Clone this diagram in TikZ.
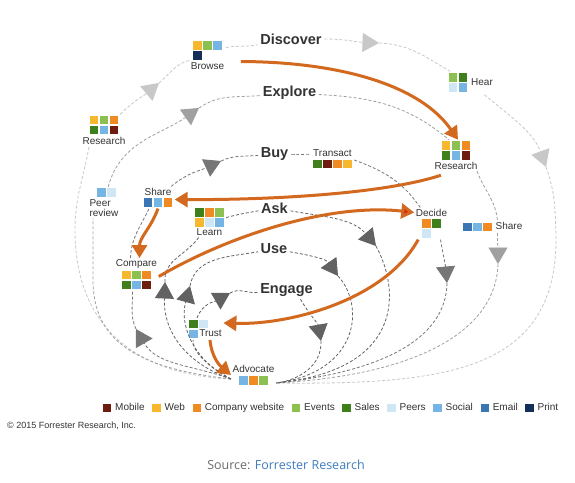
\documentclass[tikz,border=0pt]{standalone}
\usepackage{fontspec}
\setmainfont{Liberation Sans}
\newfontfamily\srcfont{Open Sans}
\usetikzlibrary{arrows.meta,positioning}

\definecolor{mobile}{HTML}{6E1B10}
\definecolor{web}{HTML}{F5B82E}
\definecolor{company}{HTML}{EF8B22}
\definecolor{events}{HTML}{8CC152}
\definecolor{sales}{HTML}{3F7F1C}
\definecolor{peers}{HTML}{CFE6F5}
\definecolor{social}{HTML}{74B5E3}
\definecolor{email}{HTML}{3C75B4}
\definecolor{print}{HTML}{14305A}
\definecolor{orng}{HTML}{D2691E}
\definecolor{tipred}{HTML}{DC2A14}
\definecolor{txt}{HTML}{333333}
\definecolor{gDis}{HTML}{C8C8C8}
\definecolor{gExp}{HTML}{A0A0A0}
\definecolor{gBuy}{HTML}{767676}
\definecolor{gIn}{HTML}{626262}
\definecolor{srcgray}{HTML}{6A6A6A}
\definecolor{srcblue}{HTML}{3F7DBF}

\newcommand{\sq}[1]{\kern0.75pt\textcolor{#1}{\rule[-1.5pt]{8.5pt}{8.5pt}}\kern0.75pt}

\tikzset{>=latex,
  touchpt/.style={inner sep=1.5pt, align=center, text=txt, font=\fontsize{10}{10}\selectfont},
  stage/.style={inner sep=2.5pt, text=txt, font=\fontsize{14.5}{15}\selectfont\bfseries},
  lineDis/.style={draw=gDis, line width=0.8pt, dash pattern=on 3pt off 2pt},
  lineExp/.style={lineDis, draw=gExp},
  lineBuy/.style={lineDis, draw=gBuy},
  lineIn/.style={lineDis, draw=gIn},
  gtri/.style={-{Triangle[length=16.5pt,width=19pt]}},
  orarrow/.style={draw=orng, line width=3pt, -{Triangle[length=13pt,width=15pt]}},
  legitem/.style={inner sep=0pt, text=txt, font=\fontsize{10}{10}\selectfont}
}

\begin{document}
\begin{tikzpicture}[x=1pt,y=1pt]
\useasboundingbox (0,0) rectangle (575,-482);
\fill[white] (0,0) rectangle (575,-482);

% stages
\node[stage] (discover) at (291,-39) {Discover};
\node[stage] (explore) at (289.5,-93) {Explore};
\node[stage] (buy) at (274.5,-154) {Buy};
\node[stage] (ask) at (274.5,-208) {Ask};
\node[stage] (use) at (274,-249) {Use};
\node[stage] (engage) at (286.5,-290) {Engage};

% touchpoints
\node[touchpt] (browse) at (207.5,-55.5) {\sq{web}\sq{events}\sq{social}\\\makebox[30pt][l]{\sq{print}}\\[1.5pt]Browse};
\node[touchpt] (resL) at (104,-130.5) {\sq{web}\sq{events}\sq{company}\\\sq{sales}\sq{social}\sq{mobile}\\[2pt]Research};
\node[touchpt, align=left] (peer) at (104,-202.5) {\hspace*{7pt}\sq{social}\sq{peers}\\[1pt]Peer\\review};
\node[touchpt] (shareL) at (158,-197.5) {Share\\\sq{email}\sq{social}\sq{company}};
\node[touchpt] (learn) at (209.5,-222) {\sq{sales}\sq{company}\sq{events}\\\sq{web}\sq{peers}\sq{social}\\Learn};
\node[touchpt] (compare) at (136.5,-274.5) {Compare\\[1pt]\sq{web}\sq{events}\sq{company}\\\sq{sales}\sq{social}\sq{mobile}};
\node[touchpt, align=left] (trust) at (205,-329) {\sq{sales}\sq{peers}\\\sq{social}\kern1pt Trust};
\node[touchpt] (advocate) at (253.5,-375) {Advocate\\[1pt]\sq{social}\sq{company}\sq{events}};
\node[touchpt] (transact) at (332.5,-159) {Transact\\\sq{sales}\sq{mobile}\sq{company}\sq{web}};
\node[touchpt] (resR) at (456,-155.5) {\sq{web}\sq{events}\sq{company}\\\sq{sales}\sq{social}\sq{mobile}\\[1pt]Research};
\node[touchpt] (decide) at (431.5,-223.5) {Decide\\\sq{company}\sq{sales}\\\makebox[20pt][l]{\sq{peers}}};
\node[touchpt] (shareR) at (492.5,-227) {\sq{email}\sq{social}\sq{company}\hspace{3pt}Share};
\node[touchpt] (hear) at (470.5,-83) {\begin{tabular}{@{}c@{}}\sq{events}\sq{sales}\\\sq{peers}\sq{social}\end{tabular}\hspace{3pt}Hear};

\coordinate (advL) at ([yshift=-4pt]advocate.west);
\coordinate (advR) at ([yshift=-8pt]advocate.east);

% arrow tips on the loops
\coordinate (tD1) at (159,-83);
\coordinate (tD2) at (379,-43);
\coordinate (tD3) at (546,-167);
\coordinate (tE1) at (199,-108);
\coordinate (tE2) at (498,-264);
\coordinate (tB1) at (136,-329);
\coordinate (tB2) at (221,-161);
\coordinate (tB3) at (447,-283);
\coordinate (tA1) at (165,-282);
\coordinate (tA2) at (376,-246);
\coordinate (tU1) at (190,-286);
\coordinate (tU2) at (338,-276);
\coordinate (tG1) at (230,-293);
\coordinate (tG2) at (321,-341);

% Discover
\draw[lineDis] (advL) .. controls (140,-375) and (75,-330) .. (75,-230) to[out=90,in=-100] ([xshift=-15pt]resL.south);
\draw[lineDis,gtri] (resL) to[out=45,in=220] (tD1);
\draw[lineDis] (tD1) to[out=40,in=195] (browse);
\draw[lineDis] ([yshift=8pt]browse.east) to[out=10,in=190] (discover);
\draw[lineDis,gtri] (discover) to[out=0,in=178] (tD2);
\draw[lineDis] (tD2) to[out=-2,in=150] (hear);
\draw[lineDis,gtri] (hear) to[out=-40,in=110] (tD3);
\draw[lineDis] (tD3) to[out=-70,in=92] (556,-235) .. controls (558,-370) and (450,-385) .. (advR);

% Explore
\draw[lineExp] (advL) .. controls (135,-368) and (93,-340) .. (93,-280) -- ([xshift=-11pt]peer.south);
\draw[lineExp,gtri] (peer) to[out=75,in=215] (tE1);
\draw[lineExp] (tE1) to[out=35,in=185] (explore);
\draw[lineExp] (explore) to[out=-3,in=140] ([xshift=-7pt]resR.north);
\draw[lineExp] ([xshift=-2pt]resR.south east) to[out=-70,in=95] ([xshift=5pt]shareR.north);
\draw[lineExp,gtri] ([xshift=5pt]shareR.south) to[out=-90,in=90] (tE2);
\draw[lineExp] (tE2) .. controls (496,-330) and (420,-375) .. (advR);

% Buy
\draw[lineBuy,gtri] (advL) to[out=160,in=-60] (tB1);
\draw[lineBuy] (tB1) to[out=115,in=-88] ([xshift=-4pt]compare.south);
\draw[lineBuy] ([xshift=-6pt]compare.north) to[out=88,in=-115] ([xshift=-9pt]shareL.south);
\draw[lineBuy,gtri] (shareL) to[out=40,in=205] (tB2);
\draw[lineBuy] (tB2) to[out=25,in=185] (buy);
\draw[lineBuy] (buy) to[out=0,in=180] ([yshift=5pt]transact.west);
\draw[lineBuy] ([yshift=-1pt]transact.east) to[out=-20,in=125] (decide);
\draw[lineBuy,gtri] ([xshift=9pt]decide.south) to[out=-80,in=95] (tB3);
\draw[lineBuy] (tB3) .. controls (446,-340) and (380,-372) .. (advR);

% Ask
\draw[lineIn,gtri] (advL) .. controls (190,-365) and (163,-335) .. (tA1);
\draw[lineIn] (tA1) to[out=95,in=235] (learn);
\draw[lineIn] (learn) to[out=15,in=190] (ask);
\draw[lineIn,gtri] (ask) to[out=-10,in=130] (tA2);
\draw[lineIn] (tA2) .. controls (400,-290) and (405,-370) .. (advR);

% Use
\draw[lineIn,gtri] (advL) .. controls (200,-365) and (178,-330) .. (tU1);
\draw[lineIn] (tU1) to[out=80,in=190] (use);
\draw[lineIn,gtri] (use) to[out=-10,in=125] (tU2);
\draw[lineIn] (tU2) .. controls (365,-305) and (360,-372) .. (advR);

% Engage
\draw[lineIn] (advL) .. controls (212,-368) and (193,-355) .. ([xshift=-12pt]trust.south);
\draw[lineIn,gtri] ([xshift=-8pt]trust.north) to[out=70,in=210] (tG1);
\draw[lineIn] (tG1) to[out=30,in=185] (engage);
\draw[lineIn,gtri] ([xshift=14pt]engage.south) to[out=-60,in=100] (tG2);
\draw[lineIn] (tG2) .. controls (322,-365) and (300,-380) .. (advR);

% journey
\draw[orarrow] ([xshift=15pt,yshift=-6pt]browse.east) .. controls (340,-62) and (420,-85) .. ([xshift=2pt]resR.north);
\draw[orarrow] ([xshift=8pt,yshift=-4pt]resR.south west) .. controls (380,-195) and (260,-200) .. ([yshift=-2pt]shareL.east);
\draw[orarrow] ([xshift=0pt]shareL.south) to[out=-110,in=90] ([xshift=3pt]compare.north);
\draw[orarrow, -{Triangle[length=13pt,width=15pt,fill=tipred]}] ([yshift=-2pt]compare.east) .. controls (230,-235) and (330,-203) .. ([yshift=11pt]decide.west);
\draw[orarrow] ([xshift=4pt]decide.south west) .. controls (385,-300) and (290,-325) .. ([yshift=6pt]trust.east);
\draw[orarrow] ([xshift=5pt]trust.south) to[out=-85,in=140] (advocate.west);

% legend
\node[legitem, anchor=west] (kMobile) at (102,-408) {\sq{mobile}\hspace{3pt}Mobile};
\node[legitem, right=6.5pt of kMobile] (kWeb) {\sq{web}\hspace{3pt}Web};
\node[legitem, right=6.5pt of kWeb] (kCompany) {\sq{company}\hspace{3pt}Company website};
\node[legitem, right=6.5pt of kCompany] (kEvents) {\sq{events}\hspace{3pt}Events};
\node[legitem, right=6.5pt of kEvents] (kSales) {\sq{sales}\hspace{3pt}Sales};
\node[legitem, right=6.5pt of kSales] (kPeers) {\sq{peers}\hspace{3pt}Peers};
\node[legitem, right=6.5pt of kPeers] (kSocial) {\sq{social}\hspace{3pt}Social};
\node[legitem, right=6.5pt of kSocial] (kEmail) {\sq{email}\hspace{3pt}Email};
\node[legitem, right=6.5pt of kEmail] (kPrint) {\sq{print}\hspace{3pt}Print};

\node[anchor=west, inner sep=0pt, text=txt, font=\fontsize{9}{9}\selectfont] (copy) at (7,-426) {© 2015 Forrester Research, Inc.};
\node[inner sep=0pt, font=\srcfont\fontsize{12.5}{12.5}\selectfont] (src) at (286,-465) {\textcolor{srcgray}{Source:} \textcolor{srcblue}{Forrester Research}};
\end{tikzpicture}
\end{document}
